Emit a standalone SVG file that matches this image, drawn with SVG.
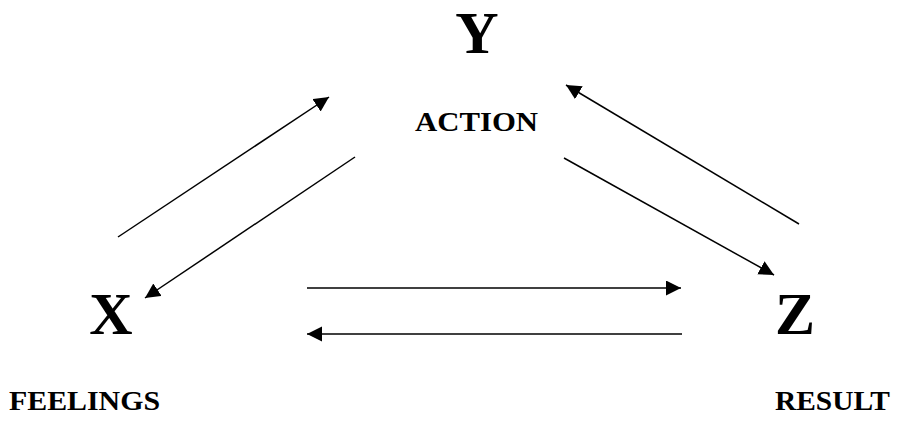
<svg xmlns="http://www.w3.org/2000/svg" width="901" height="421" viewBox="0 0 901 421">
<style>
.big{font-family:"Liberation Serif","Times New Roman",serif;font-weight:bold;font-size:60px;fill:#000;text-anchor:middle}
.lbl{font-family:"Liberation Serif","Times New Roman",serif;font-weight:bold;font-size:28px;fill:#000}
.c{stroke:#000;stroke-width:1.5;fill:none;marker-end:url(#ah)}
</style>
<defs>
<marker id="ah" markerUnits="userSpaceOnUse" markerWidth="16" markerHeight="16" refX="15" refY="7.5" orient="auto">
<path d="M0,0 L15,7.5 L0,15 Z" fill="#000"/>
</marker>
</defs>
<rect width="901" height="421" fill="#fff"/>
<g id="nodeY">
<text class="big" x="477" y="53">Y</text>
<text class="lbl" x="415" y="131" textLength="123" lengthAdjust="spacingAndGlyphs">ACTION</text>
</g>
<g id="nodeX">
<text class="big" x="111" y="334">X</text>
<text class="lbl" x="9" y="410" textLength="151" lengthAdjust="spacingAndGlyphs">FEELINGS</text>
</g>
<g id="nodeZ">
<text class="big" x="795" y="334">Z</text>
<text class="lbl" x="775" y="410" textLength="115" lengthAdjust="spacingAndGlyphs">RESULT</text>
</g>
<g id="connectors">
<line class="c" x1="118" y1="237" x2="329" y2="97"/>
<line class="c" x1="355" y1="157" x2="145" y2="298"/>
<line class="c" x1="799" y1="224" x2="566" y2="85"/>
<line class="c" x1="564" y1="158" x2="774" y2="275"/>
<line class="c" x1="307" y1="288" x2="681" y2="288"/>
<line class="c" x1="682" y1="334" x2="307" y2="334"/>
</g>
</svg>
